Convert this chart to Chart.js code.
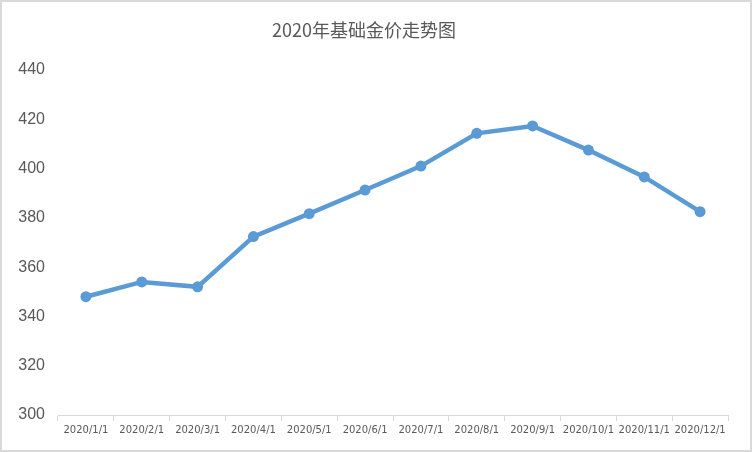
<!DOCTYPE html>
<html>
<head>
<meta charset="utf-8">
<script src="https://cdn.jsdelivr.net/npm/chart.js@4"></script>
<style>
  html, body { margin: 0; padding: 0; background: #fff; }
  .box { width: 752px; height: 452px; box-sizing: border-box; border: 2px solid #d9d9d9; position: relative; }
  .box canvas { position: absolute; left: -2px; top: -2px; }
</style>
</head>
<body>
<div class="box"><canvas id="goldChart" width="752" height="452"></canvas></div>
<script>
const months = ["2020/1/1", "2020/2/1", "2020/3/1", "2020/4/1", "2020/5/1", "2020/6/1",
  "2020/7/1", "2020/8/1", "2020/9/1", "2020/10/1", "2020/11/1", "2020/12/1"];
const prices = [348, 354, 352, 372.4, 381.7, 391.3, 401, 414.3, 417.3, 407.5, 396.6, 382.5];
const yMin = 300;
const yMax = 440;
const yStep = 20;

const ctx = document.getElementById('goldChart').getContext('2d');

const goldChart = new Chart(ctx, {
  type: "line",
  data: {
    labels: months,
    datasets: [
      {
        label: "基础金价",
        data: prices,
        borderColor: "#5b9bd5",
        backgroundColor: "#5b9bd5",
        borderWidth: 4.5,
        pointRadius: 5.5,
        pointBorderWidth: 0,
        pointBackgroundColor: "#5b9bd5",
        tension: 0,
      },
    ],
  },
  options: {
    responsive: false,
    animation: false,
    layout: { padding: { left: 0, right: 24, top: 0, bottom: 0 } },
    plugins: {
      legend: { display: false },
      tooltip: { enabled: false },
      title: {
        display: true,
        text: "2020年基础金价走势图",
        color: "#595959",
        font: { family: "'Noto Sans CJK SC', sans-serif", size: 18, weight: "normal" },
        padding: { top: 19, bottom: 29.4 },
      },
    },
    scales: {
      x: {
        offset: true,
        grid: {
          display: true,
          drawOnChartArea: false,
          drawTicks: true,
          tickLength: 6,
          color: "#d9d9d9",
          offset: true,
        },
        border: { display: true, color: "#d9d9d9", width: 1 },
        ticks: {
          color: "#595959",
          font: { family: "'DejaVu Sans', sans-serif", size: 10 },
          padding: 3,
          maxRotation: 0,
          autoSkip: false,
        },
        afterFit: (scale) => { scale.height = 37; },
      },
      y: {
        min: yMin,
        max: yMax,
        grid: { display: false, drawTicks: false },
        border: { display: false },
        ticks: {
          stepSize: yStep,
          color: "#595959",
          font: { family: "'Liberation Sans', sans-serif", size: 16 },
          padding: 13,
        },
        afterFit: (scale) => { scale.width = 58; },
      },
    },
  },
});
</script>
</body>
</html>
